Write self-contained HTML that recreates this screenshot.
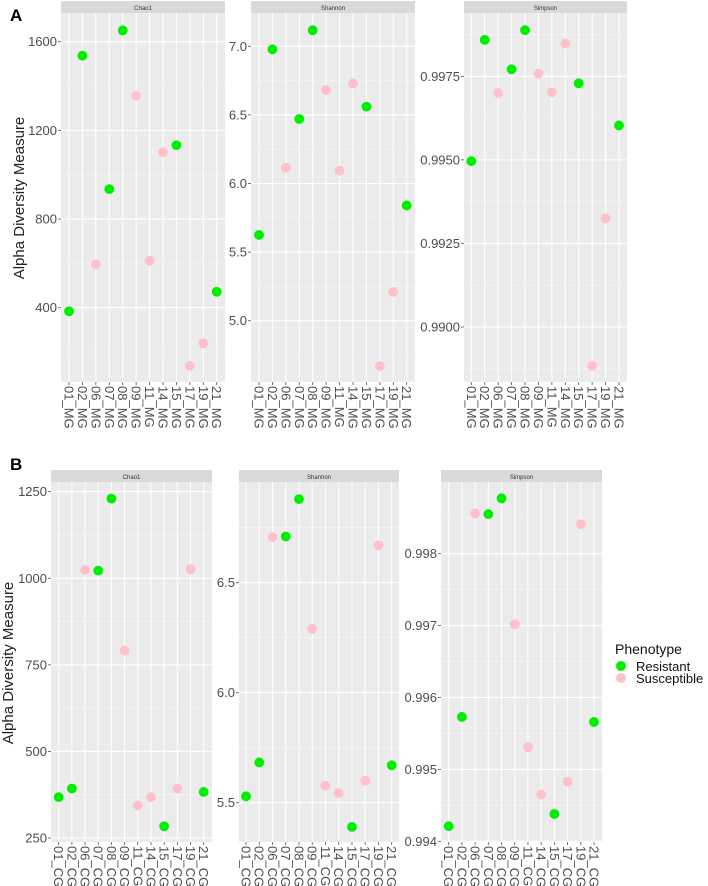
<!DOCTYPE html>
<html><head><meta charset="utf-8"><style>
html,body{margin:0;padding:0;background:#fff;}
svg{display:block;font-family:"Liberation Sans",Arial,sans-serif;}
</style></head><body>
<svg id="chart" width="708" height="886" viewBox="0 0 708 886" xmlns="http://www.w3.org/2000/svg">
<text x="10" y="21" font-size="17" font-weight="bold">A</text>
<text x="10" y="470" font-size="17" font-weight="bold">B</text>
<text transform="translate(24,198) rotate(-90)" text-anchor="middle" font-size="15" fill="#222">Alpha Diversity Measure</text>
<text transform="translate(13,663) rotate(-90)" text-anchor="middle" font-size="15" fill="#222">Alpha Diversity Measure</text>
<g>
<text x="615" y="654" font-size="14" fill="#111">Phenotype</text>
<circle cx="621" cy="666" r="5" fill="#00EE00"/>
<text x="636" y="671" font-size="13" fill="#111">Resistant</text>
<circle cx="621" cy="678" r="5" fill="#FFC0CB"/>
<text x="636" y="683" font-size="13" fill="#111">Susceptible</text>
</g>
</svg>
<script>
// ---- data ----
const samplesA = ["01_MG","02_MG","06_MG","07_MG","08_MG","09_MG","11_MG","14_MG","15_MG","17_MG","19_MG","21_MG"];
const samplesB = ["01_CG","02_CG","06_CG","07_CG","08_CG","09_CG","11_CG","14_CG","15_CG","17_CG","19_CG","21_CG"];
const phenotypeA = ["R","R","S","R","R","S","S","S","R","S","S","R"];
const phenotypeB = ["R","R","S","R","R","S","S","S","R","S","S","R"];
const chao1A = [384,1537,596,935,1651,1356,612,1101,1133,138,239,472];
const shannonA = [5.625,6.978,6.115,6.47,7.117,6.68,6.093,6.73,6.56,4.67,5.21,5.84];
const simpsonA = [0.99496,0.99859,0.9970,0.99771,0.99888,0.99758,0.99702,0.99848,0.99729,0.98884,0.99325,0.99603];
const chao1B = [368,393,1024,1022,1230,791,344,368,284,393,1026,383];
const shannonB = [5.529,5.683,6.707,6.71,6.88,6.29,5.577,5.544,5.39,5.60,6.67,5.67];
const simpsonB = [0.99421,0.99573,0.99856,0.99855,0.99877,0.99702,0.99531,0.99465,0.99438,0.99483,0.99841,0.99566];
const ticksChao1A = [400,800,1200,1600];
const ticksShannonA = [5.0,5.5,6.0,6.5,7.0];
const ticksSimpsonA = [0.9900,0.9925,0.9950,0.9975];
const ticksChao1B = [250,500,750,1000,1250];
const ticksShannonB = [5.5,6.0,6.5];
const ticksSimpsonB = [0.994,0.995,0.996,0.997,0.998];

const NS="http://www.w3.org/2000/svg";
const svg=document.getElementById('chart');
function mk(tag,attrs,parent){const e=document.createElementNS(NS,tag);for(const k in attrs)e.setAttribute(k,attrs[k]);(parent||svg).appendChild(e);return e;}

// layout: plot box, and y-mapping via two reference ticks (value, pixel)
const panels=[
 {key:"a-chao1",title:"Chao1",x0:61,x1:225,top:13,bottom:382,strip:12,cats:samplesA,ph:phenotypeA,vals:chao1A,ticks:ticksChao1A,fmt:v=>String(v),v0:400,p0:307.7,v1:1600,p1:41.7,c0:69,c1:216.7},
 {key:"a-shannon",title:"Shannon",x0:251,x1:415,top:13,bottom:382,strip:12,cats:samplesA,ph:phenotypeA,vals:shannonA,ticks:ticksShannonA,fmt:v=>v.toFixed(1),v0:5.0,p0:320.7,v1:7.0,p1:46.3,c0:259,c1:406.7},
 {key:"a-simpson",title:"Simpson",x0:464,x1:627,top:13,bottom:382,strip:12,cats:samplesA,ph:phenotypeA,vals:simpsonA,ticks:ticksSimpsonA,fmt:v=>v.toFixed(4),v0:0.9900,p0:327,v1:0.9975,p1:76.3,c0:471.3,c1:619},
 {key:"b-chao1",title:"Chao1",x0:51,x1:212,top:482,bottom:842,strip:12,cats:samplesB,ph:phenotypeB,vals:chao1B,ticks:ticksChao1B,fmt:v=>String(v),v0:250,p0:838,v1:1250,p1:491.7,c0:58.7,c1:203.7},
 {key:"b-shannon",title:"Shannon",x0:239,x1:399,top:482,bottom:842,strip:12,cats:samplesB,ph:phenotypeB,vals:shannonB,ticks:ticksShannonB,fmt:v=>v.toFixed(1),v0:5.5,p0:802.7,v1:6.5,p1:582.7,c0:246,c1:391.7},
 {key:"b-simpson",title:"Simpson",x0:441,x1:602,top:482,bottom:842,strip:12,cats:samplesB,ph:phenotypeB,vals:simpsonB,ticks:ticksSimpsonB,fmt:v=>v.toFixed(3),v0:0.994,p0:841.3,v1:0.998,p1:553.7,c0:448.7,c1:594}
];

panels.forEach(P=>{
  const g=mk('g',{});
  
  
  const y=v=>P.p0+(v-P.v0)*(P.p1-P.p0)/(P.v1-P.v0);
  const x=i=>P.c0+i*(P.c1-P.c0)/(P.cats.length-1);
  const st=P.top-P.strip;
  const strip=mk('rect',{x:P.x0,y:st,width:P.x1-P.x0,height:P.strip,fill:'#D9D9D9'},g);
  
  
  const stt=mk('text',{x:(P.x0+P.x1)/2,y:st+9,'text-anchor':'middle','font-size':'6','fill':'#333'},g);
  stt.textContent=P.title;
  
  
  const bg=mk('rect',{x:P.x0,y:P.top,width:P.x1-P.x0,height:P.bottom-P.top,fill:'#EBEBEB'},g);
  
  
  const step=P.ticks[1]-P.ticks[0];
  // minor grid
  for(let k=-1;k<=P.ticks.length;k++){
    const v=P.ticks[0]+(k+0.5)*step;const py=y(v);
    if(py>P.top&&py<P.bottom) mk('line',{x1:P.x0,x2:P.x1,y1:py,y2:py,stroke:'#F5F5F5','stroke-width':0.6},g);
  }
  P.ticks.forEach(v=>{
    const py=y(v);
    mk('line',{x1:P.x0,x2:P.x1,y1:py,y2:py,stroke:'#fff','stroke-width':1.1},g);
    mk('line',{x1:P.x0-3,x2:P.x0,y1:py,y2:py,stroke:'#555','stroke-width':0.8},g);
    const t=mk('text',{x:P.x0-4,y:py+4.5,'text-anchor':'end','font-size':'13','fill':'#4D4D4D'},g);
    t.textContent=P.fmt(v);
    
    
  });
  P.cats.forEach((c,i)=>{
    const px=x(i);
    mk('line',{x1:px,x2:px,y1:P.top,y2:P.bottom,stroke:'#fff','stroke-width':1.1},g);
    mk('line',{x1:px,x2:px,y1:P.bottom,y2:P.bottom+3,stroke:'#555','stroke-width':0.8},g);
    const t=mk('text',{transform:`translate(${px-4.5},${P.bottom+4}) rotate(90)`,'font-size':'13','fill':'#4D4D4D'},g);
    t.textContent=c;
    
    
  });
  P.vals.forEach((v,i)=>{
    const pt=mk('circle',{cx:x(i),cy:y(v),r:4.9,fill:P.ph[i]==='R'?'#00EE00':'#FFC0CB'},g);
    
    
  });
});
</script>
</body></html>
